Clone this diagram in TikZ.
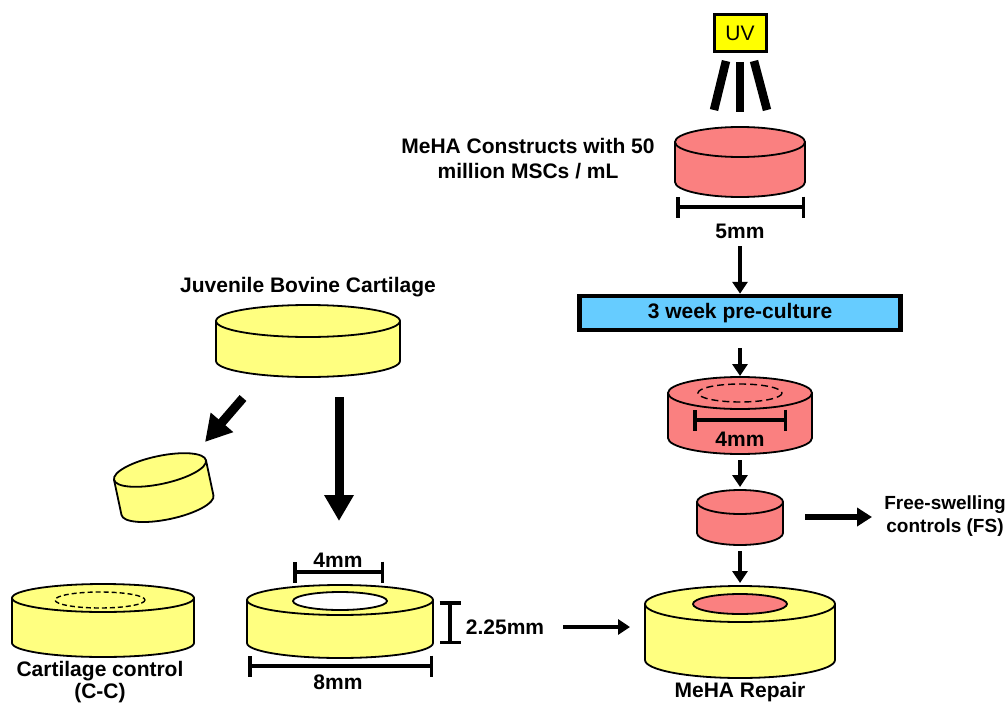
\documentclass[tikz,border=0pt]{standalone}
\usepackage{fontspec}
\setmainfont{Liberation Sans}
\usetikzlibrary{arrows.meta}

\definecolor{amarelo}{RGB}{255,255,128}
\definecolor{rosa}{RGB}{250,128,128}
\definecolor{azul}{RGB}{102,204,255}
\definecolor{amareloUV}{RGB}{255,255,0}

\tikzset{
  contorno/.style={line width=1.8pt, line join=round},
  seta/.style={line width=4.5pt, -{Triangle[length=12pt, width=15pt]}},
  setagrande/.style={line width=9pt, -{Triangle[length=26pt, width=28pt]}},
  cota/.style={line width=3.5pt, {Bar[width=21pt]}-{Bar[width=21pt]}},
  rotulo/.style={font=\bfseries\fontsize{21}{25}\selectfont, align=center, inner sep=0pt},
}

% cilindro: cor, centro x, topo y, base y, raio x, raio y
\newcommand{\cilindro}[6]{%
  \filldraw[contorno, fill=#1] (#2-#5,#3) -- (#2-#5,#4) arc (180:0:#5 and #6) -- (#2+#5,#3) -- cycle;
  \filldraw[contorno, fill=#1] (#2,#3) ellipse (#5 and #6);
}

\begin{document}
\begin{tikzpicture}[x=1pt, y=-1pt]
    \useasboundingbox (0,0) rectangle (1006,706);
    \clip (0,0) rectangle (1006,706);

    % Lampada UV e raios
    \node[draw, line width=3pt, fill=amareloUV, minimum width=52pt, minimum height=37pt,
          font=\fontsize{21}{25}\selectfont] (uv) at (740,33) {UV};
    \draw[line width=8.5pt] (726,61) -- (714,110);
    \draw[line width=8.5pt] (740,62) -- (740,112);
    \draw[line width=8.5pt] (754,61) -- (767,110);

    % Construto de MeHA
    \cilindro{rosa}{740}{142}{182}{65}{15}
    \node[rotulo] (meha) at (528,159) {MeHA Constructs with 50\\million MSCs / mL};
    \draw[cota] (676,207) -- (805,207);
    \node[rotulo] (cinco) at (740,231) {5mm};

    % Pre-cultura
    \coordinate (s1) at (740,246);
    \node[draw, line width=4.5pt, fill=azul, minimum width=321pt, minimum height=34pt,
          rotulo] (pre) at (740,313) {3 week pre-culture};
    \draw[seta] (s1) -- (pre.north);
    \coordinate (s2) at (740,348);
    \coordinate (e2) at (740,376);
    \draw[seta] (s2) -- (e2);

    % Construto cortado (4mm)
    \cilindro{rosa}{740}{393}{438}{72}{16}
    \draw[line width=1.4pt, dash pattern=on 7pt off 4pt] (740,393) ellipse (42 and 9);
    \draw[cota] (693,420) -- (787,420);
    \node[rotulo] (quatro) at (740,439) {4mm};
    \coordinate (s3) at (740,460);
    \coordinate (e3) at (740,487);
    \draw[seta] (s3) -- (e3);

    % Controle livre
    \cilindro{rosa}{740}{502}{533}{43}{12}
    \node[rotulo, font=\bfseries\fontsize{19}{23}\selectfont] (fs) at (945,516) {Free-swelling\\controls (FS)};
    \coordinate (s4) at (805,517);
    \coordinate (e4) at (872,517);
    \draw[seta, line width=5.5pt, -{Triangle[length=15pt, width=18pt]}] (s4) -- (e4);
    \coordinate (s5) at (740,551);
    \coordinate (e5) at (740,583);
    \draw[seta] (s5) -- (e5);

    % Reparo
    \cilindro{amarelo}{740}{604}{660}{95}{18}
    \filldraw[contorno, fill=rosa] (740,604) ellipse (47 and 10);
    \node[rotulo] (reparo) at (740,692) {MeHA Repair};

    % Cartilagem bovina
    \node[rotulo] (jbc) at (308,287) {Juvenile Bovine Cartilage};
    \cilindro{amarelo}{308}{321}{361}{92}{16}
    \coordinate (d1) at (243,398);
    \coordinate (d2) at (205,442);
    \draw[setagrande] (d1) -- (d2);
    \coordinate (v1) at (339,397);
    \coordinate (v2) at (339,521);
    \draw[setagrande] (v1) -- (v2);

    % Pedaco descartado
    \begin{scope}[shift={(160,470)}, rotate=12]
      \cilindro{amarelo}{0}{0}{36}{47}{14}
    \end{scope}

    % Controle de cartilagem
    \cilindro{amarelo}{103}{598}{643}{91}{14}
    \draw[line width=1.4pt, dash pattern=on 5pt off 3pt] (100,600) ellipse (45 and 8);
    \node[rotulo, font=\bfseries\fontsize{21}{22}\selectfont] (cc) at (100,682) {Cartilage control\\(C-C)};

    % Defeito de 4mm
    \cilindro{amarelo}{340}{600}{643}{93}{15}
    \filldraw[contorno, fill=white] (340,601) ellipse (47 and 9);
    \draw[cota] (293,572) -- (384,572);
    \node[rotulo] (q2) at (338,560) {4mm};
    \draw[cota] (450,601) -- (450,644);
    \node[rotulo] (alt) at (505,627) {2.25mm};
    \draw[cota] (248,666) -- (433,666);
    \node[rotulo] (oito) at (338,682) {8mm};
    \coordinate (s6) at (563,627);
    \coordinate (e6) at (630,627);
    \draw[seta] (s6) -- (e6);
\end{tikzpicture}
\end{document}
